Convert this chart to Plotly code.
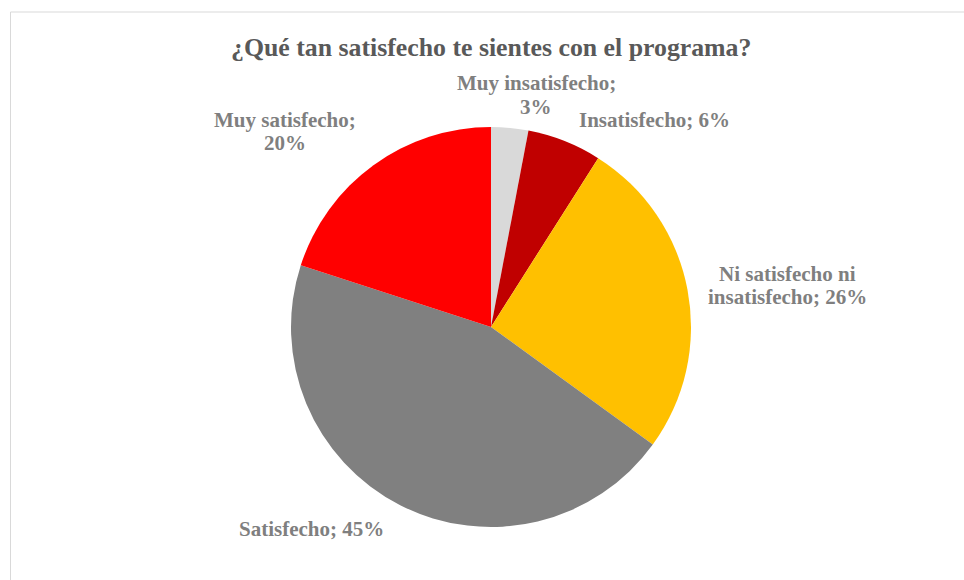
import plotly.graph_objects as go

W, H = 964, 580

categories = ["Muy insatisfecho", "Insatisfecho", "Ni satisfecho ni insatisfecho", "Satisfecho", "Muy satisfecho"]
values = [3, 6, 26, 45, 20]
colors = ["#d9d9d9", "#c00000", "#ffc000", "#808080", "#ff0000"]
# each label as lines, with the pixel centre of the label block
label_lines = [["Muy insatisfecho;", "3%"], ["Insatisfecho; 6%"], ["Ni satisfecho ni", "insatisfecho; 26%"],
               ["Satisfecho; 45%"], ["Muy satisfecho;", "20%"]]
label_pos = [(536, 95), (654, 120), (787, 285), (311, 529), (285, 132)]
title = "¿Qué tan satisfecho te sientes con el programa?"

cx, cy, r = 491, 327, 200
line_h = 23

fig = go.Figure(go.Pie(
    labels=categories, values=values, sort=False, direction="clockwise", rotation=0,
    marker=dict(colors=colors, line=dict(color="white", width=0)),
    textinfo="none", hoverinfo="label+percent", showlegend=False,
    domain=dict(x=[(cx - r) / W, (cx + r) / W], y=[1 - (cy + r) / H, 1 - (cy - r) / H]),
))

font_family = "Liberation Serif, Times New Roman, serif"
for lines, (x, y) in zip(label_lines, label_pos):
    n = len(lines)
    for i, t in enumerate(lines):
        ly = y + (i - (n - 1) / 2) * line_h
        fig.add_annotation(x=x / W, y=1 - ly / H, xref="paper", yref="paper", text="<b>" + t + "</b>",
                           showarrow=False, xanchor="center", yanchor="middle", align="center",
                           font=dict(family=font_family, size=21, color="#7f7f7f"))

fig.add_annotation(x=491 / W, y=1 - 48 / H, xref="paper", yref="paper", text="<b>" + title + "</b>",
                   showarrow=False, xanchor="center", yanchor="middle",
                   font=dict(family=font_family, size=25.8, color="#595959"))

fig.add_shape(type="rect", xref="paper", yref="paper", x0=10.5 / W, x1=1.02, y0=-0.05, y1=1 - 12 / H,
              line=dict(color="#d9d9d9", width=1), fillcolor="rgba(0,0,0,0)")

fig.update_layout(width=W, height=H, margin=dict(l=0, r=0, t=0, b=0),
                  paper_bgcolor="white", plot_bgcolor="white")

fig.write_html("out.html")
